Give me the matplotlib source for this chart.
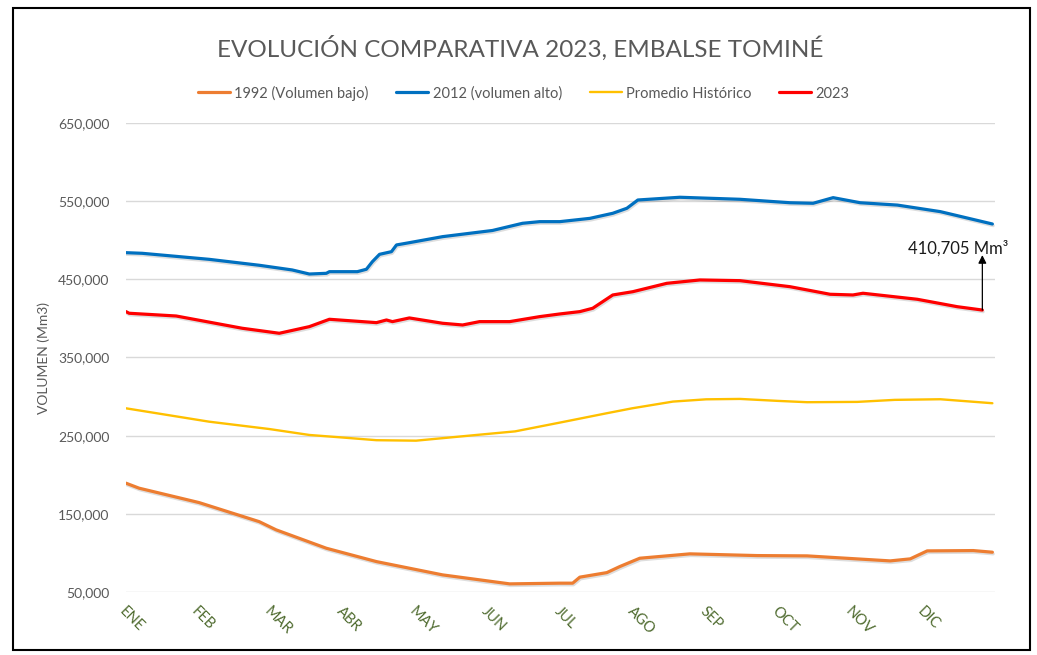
import matplotlib
matplotlib.use("Agg")
import matplotlib.pyplot as plt
import matplotlib.patheffects as pe
from matplotlib.patches import Rectangle
from matplotlib.ticker import FuncFormatter, FixedLocator

plt.rcParams['font.family'] = ['Lato', 'DejaVu Sans']

# ---------------- data (day of year, volume in Mm3) ----------------
months = ["ENE", "FEB", "MAR", "ABR", "MAY", "JUN", "JUL", "AGO", "SEP", "OCT", "NOV", "DIC"]

dias_1992 = [0, 5.5, 30.6, 55.8, 62.9, 83.9, 104.9, 132.6, 160.7, 181.7, 187.1, 190.1,
             201.4, 206.8, 215.2, 236.2, 264.3, 285.3, 320.1, 328.5, 335.6, 354.9, 362.9]
vol_1992 = [189200, 182800, 164400, 140000, 129500, 106000, 88900, 71900, 60400, 61300, 61300, 69000,
            74800, 82500, 93200, 98800, 96600, 96200, 89800, 92400, 102600, 103000, 100900]

dias_2012 = [0, 6.8, 34.8, 55.8, 69.6, 76.8, 83.9, 85.2, 96.9, 100.7, 103.2, 106.2, 111.2, 113.3,
             118.7, 132.6, 153.5, 166.1, 173.3, 181.7, 194.3, 203.9, 209.8, 214.4, 232.0, 257.2,
             278.1, 287.8, 296.2, 307.5, 323.1, 341.1, 362.9]
vol_2012 = [484100, 483300, 475600, 468000, 462000, 456800, 457700, 459800, 459800, 462900, 472600,
            482000, 485400, 494000, 496900, 504600, 512500, 521700, 523800, 523800, 528000, 534500,
            540900, 551500, 555000, 552400, 548000, 547300, 554500, 548000, 545000, 536600, 520800]

dias_prom = [0, 34.8, 60.0, 76.8, 91.3, 104.9, 121.5, 146.8, 163.0, 181.7, 201.4, 212.0, 229.1,
             243.0, 257.2, 273.0, 285.3, 306.3, 322.0, 341.1, 362.9]
vol_prom = [285000, 267900, 258500, 250900, 247500, 244200, 243600, 250900, 255500, 266700, 278700,
            285000, 293600, 296500, 297000, 294500, 292800, 293200, 295800, 296600, 291500]

dias_2023 = [0, 1.3, 21.0, 48.7, 64.2, 76.8, 85.2, 104.9, 109.1, 111.6, 118.7, 132.6, 141.0, 148.1,
             160.7, 173.3, 181.7, 190.1, 195.5, 203.9, 212.3, 226.5, 240.4, 257.2, 278.1, 294.9,
             304.5, 308.7, 331.4, 348.2, 358.7]
vol_2023 = [408700, 406600, 403100, 387400, 381000, 389500, 398900, 394600, 398000, 395900, 400600,
            393800, 391600, 395900, 395900, 402300, 405700, 408700, 413000, 430000, 434200, 444900,
            449200, 448300, 440600, 430900, 430000, 432200, 424500, 415000, 410705]

ultimo_valor = 410705

# ---------------- figure ----------------
fig = plt.figure(figsize=(10.37, 6.55), dpi=100)
fig.patches.append(Rectangle((13 / 1037, 5 / 655), 1017 / 1037, 642 / 655, transform=fig.transFigure,
                             fill=False, edgecolor='black', linewidth=1.5, zorder=10))

ax = fig.add_axes([126 / 1037, 1 - 592 / 655, (995 - 126) / 1037, (592 - 123) / 655])

shadow = [pe.SimpleLineShadow(offset=(0.6, -1.2), shadow_color='black', alpha=0.13), pe.Normal()]

l1, = ax.plot(dias_1992, vol_1992, color='#ED7D31', lw=2.3, label='1992 (Volumen bajo)',
              path_effects=shadow, solid_capstyle='round', solid_joinstyle='round')
l2, = ax.plot(dias_2012, vol_2012, color='#0070C0', lw=2.3, label='2012 (volumen alto)',
              path_effects=shadow, solid_capstyle='round', solid_joinstyle='round')
l3, = ax.plot(dias_prom, vol_prom, color='#FFC000', lw=1.7, label='Promedio Histórico',
              solid_capstyle='round', solid_joinstyle='round')
l4, = ax.plot(dias_2023, vol_2023, color='#FF0000', lw=2.3, label='2023',
              path_effects=shadow, solid_capstyle='round', solid_joinstyle='round')

ax.set_xlim(0, 364)
ax.set_ylim(50000, 650000)
ax.set_yticks(range(50000, 650001, 100000))
ax.yaxis.set_major_formatter(FuncFormatter(lambda v, p: f"{int(v):,}"))
ax.xaxis.set_major_locator(FixedLocator([i * 365 / 12 for i in range(12)]))
ax.set_xticklabels(months, rotation=-45, ha='left', va='top', rotation_mode='anchor',
                   color='#4F6B2F', fontsize=10.5)
ax.tick_params(axis='x', length=0, pad=9)
ax.tick_params(axis='y', length=0, pad=12, labelsize=10, labelcolor='#595959')
ax.grid(axis='y', color='#D9D9D9', linewidth=1)
ax.set_axisbelow(True)
for s in ax.spines.values():
    s.set_visible(False)

ax.set_ylabel('VOLUMEN (Mm3)', fontsize=10, color='#595959')
ax.yaxis.set_label_coords(-0.088, 0.5)

# annotation
ax.annotate('', xy=(dias_2023[-1], 481000), xytext=(dias_2023[-1], ultimo_valor),
            arrowprops=dict(arrowstyle='-|>', color='black', lw=0.9, mutation_scale=12,
                            shrinkA=0, shrinkB=0))
ax.text(dias_2023[-1] - 10, 490000, f"{ultimo_valor:,} Mm³", ha='center', va='center',
        fontsize=12, color='#1a1a1a', clip_on=False)

fig.suptitle('EVOLUCIÓN COMPARATIVA 2023, EMBALSE TOMINÉ', x=0.502, y=1 - 48 / 655, va='center',
             fontsize=17.5, color='#595959')

fig.legend(handles=[l1, l2, l3, l4], loc='center', bbox_to_anchor=(0.505, 1 - 93 / 655), ncol=4,
           frameon=False, fontsize=10.5, handlelength=2.2, columnspacing=1.9, handletextpad=0.3,
           labelcolor='#595959')
for t in fig.legends[0].get_lines():
    t.set_path_effects([])

fig.savefig('out.png', dpi=100)
